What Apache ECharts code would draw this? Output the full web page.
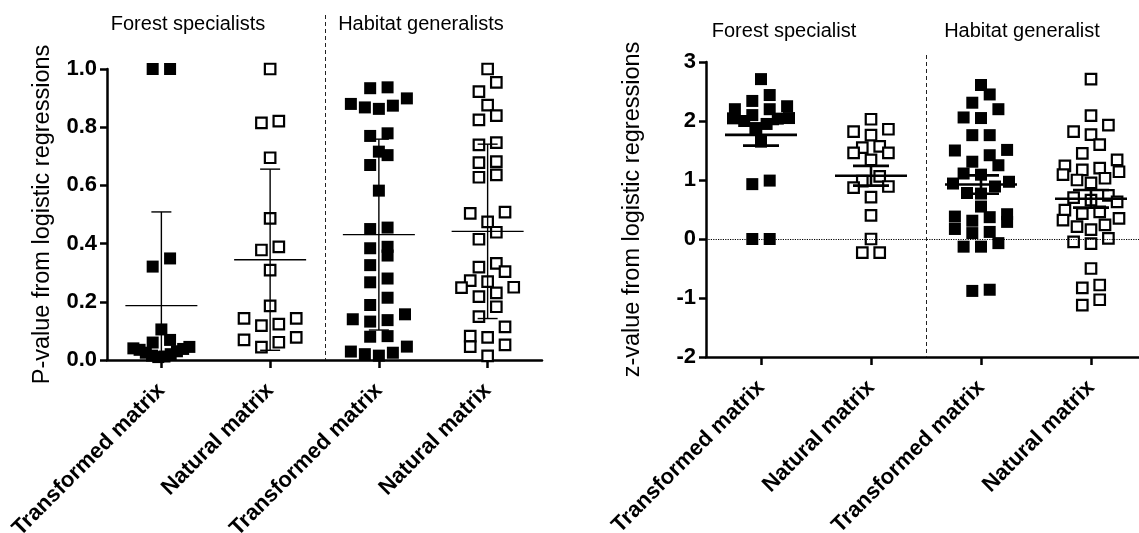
<!DOCTYPE html>
<html><head><meta charset="utf-8">
<script src="https://cdn.jsdelivr.net/npm/echarts@6/dist/echarts.min.js"></script>
<style>html,body{margin:0;padding:0;background:#fff}#c{width:1139px;height:533px}</style>
</head><body><div id="c"></div>
<script>
// ---- data ----
const categories = ['Transformed matrix', 'Natural matrix', 'Transformed matrix', 'Natural matrix'];
const groupTitlesP = ['Forest specialists', 'Habitat generalists'];
const groupTitlesZ = ['Forest specialist', 'Habitat generalist'];
const pAxisName = 'P-value from logistic regressions';
const zAxisName = 'z-value from logistic regressions';

const pForestTransformed = [1.0, 1.0, 0.349, 0.321, 0.105, 0.069, 0.06, 0.045, 0.04, 0.038, 0.035, 0.03, 0.025, 0.02, 0.015, 0.012, 0.01];
const pForestNatural = [1.0, 0.821, 0.815, 0.695, 0.487, 0.389, 0.378, 0.309, 0.186, 0.143, 0.143, 0.123, 0.118, 0.078, 0.069, 0.061, 0.044];
const pGeneralistTransformed = [0.937, 0.934, 0.899, 0.880, 0.874, 0.868, 0.863, 0.779, 0.770, 0.716, 0.704, 0.670, 0.582, 0.455, 0.450, 0.389, 0.384, 0.359, 0.326, 0.280, 0.267, 0.214, 0.189, 0.157, 0.140, 0.137, 0.132, 0.082, 0.080, 0.046, 0.029, 0.025, 0.020, 0.015];
const pGeneralistNatural = [1.0, 0.954, 0.922, 0.876, 0.840, 0.825, 0.747, 0.739, 0.682, 0.678, 0.636, 0.628, 0.508, 0.504, 0.475, 0.439, 0.415, 0.332, 0.319, 0.304, 0.273, 0.269, 0.250, 0.249, 0.231, 0.218, 0.183, 0.149, 0.114, 0.082, 0.078, 0.052, 0.046, 0.014];

const zForestTransformed = [2.71, 2.44, 2.34, 2.25, 2.20, 2.20, 2.10, 2.05, 2.045, 2.04, 2.00, 1.95, 1.88, 1.65, 0.99, 0.93, 0, 0];
const zForestNatural = [2.03, 1.86, 1.82, 1.76, 1.57, 1.55, 1.46, 1.46, 1.34, 1.06, 0.98, 0.89, 0.87, 0.71, 0.40, 0, -0.23, -0.23];
const zGeneralistTransformed = [2.61, 2.45, 2.31, 2.20, 2.06, 2.05, 1.76, 1.76, 1.51, 1.50, 1.42, 1.31, 1.25, 1.11, 1.09, 0.97, 0.94, 0.89, 0.78, 0.77, 0.55, 0.42, 0.38, 0.37, 0.31, 0.29, 0.17, 0.12, 0.10, -0.07, -0.13, -0.13, -0.86, -0.88];
const zGeneralistNatural = [2.71, 2.09, 1.93, 1.82, 1.77, 1.60, 1.45, 1.34, 1.24, 1.20, 1.17, 1.14, 1.09, 1.03, 1.00, 0.95, 0.74, 0.70, 0.66, 0.63, 0.49, 0.46, 0.43, 0.35, 0.32, 0.24, 0.21, 0.16, 0.01, -0.05, -0.08, -0.50, -0.78, -0.83, -1.03, -1.12];

// ---- layout / style ----
const FONT = '"Liberation Sans", Arial, Helvetica, sans-serif';
const G0 = {left: 107, top: 69, width: 435, height: 291};
const G1 = {left: 706, top: 62, width: 440, height: 295};
const P_MIN = 0, P_MAX = 1, Z_MIN = -2, Z_MAX = 3;
const SYM = 12;

// beeswarm-like row layout (pixel offsets computed from the values)
function swarm(values, pxPerUnit) {
  const idx = values.map((v, i) => i).sort((a, b) => values[a] - values[b]);
  const off = new Array(values.length).fill(0);
  let i = 0;
  while (i < idx.length) {
    const start = values[idx[i]];
    let j = i;
    while (j < idx.length && (values[idx[j]] - start) * pxPerUnit < SYM) j++;
    const row = idx.slice(i, j);
    const n = row.length;
    const step = n > 1 ? Math.min(17.4, 56 / (n - 1)) : 0;
    const slots = [];
    for (let k = 0; k < n; k++) slots.push((k - (n - 1) / 2) * step);
    slots.sort((a, b) => Math.abs(a) - Math.abs(b) || a - b);
    row.forEach((r, k) => { off[r] = slots[k]; });
    i = j;
  }
  return off;
}
function pointsData(groups, pxPerUnit) {
  const out = [];
  groups.forEach((vals, g) => {
    const off = swarm(vals, pxPerUnit);
    vals.forEach((v, k) => out.push([g, v, off[k]]));
  });
  return out;
}
function stats(vals) {
  const n = vals.length;
  const m = vals.reduce((a, b) => a + b, 0) / n;
  const sd = Math.sqrt(vals.reduce((a, b) => a + (b - m) * (b - m), 0) / (n - 1));
  return {m, sd, sem: sd / Math.sqrt(n)};
}
function errData(groups, kind, lo, hi) {
  return groups.map((vals, g) => {
    const s = stats(vals);
    const e = kind === 'sd' ? s.sd : s.sem;
    return [g, s.m, Math.max(lo, s.m - e), Math.min(hi, s.m + e)];
  });
}
function pointRender(filled) {
  return function (params, api) {
    const c = api.coord([api.value(0), api.value(1)]);
    const x = c[0] + api.value(2);
    if (filled) {
      return {type: 'rect', shape: {x: x - SYM / 2, y: c[1] - SYM / 2, width: SYM, height: SYM}, style: {fill: '#000'}};
    }
    const s = SYM - 1.5;
    return {type: 'rect', shape: {x: x - s / 2, y: c[1] - s / 2, width: s, height: s}, style: {fill: '#fff', stroke: '#000', lineWidth: 2.2}};
  };
}
function errRender(meanW, capW, lw, lo) {
  return function (params, api) {
    const cat = api.value(0);
    const cm = api.coord([cat, api.value(1)]);
    const cl = api.coord([cat, api.value(2)]);
    const ch = api.coord([cat, api.value(3)]);
    const x = cm[0];
    const st = {stroke: '#000', lineWidth: lw};
    const ch2 = [
      {type: 'line', shape: {x1: x - meanW / 2, y1: cm[1], x2: x + meanW / 2, y2: cm[1]}, style: st},
      {type: 'line', shape: {x1: x, y1: cl[1], x2: x, y2: ch[1]}, style: st},
      {type: 'line', shape: {x1: x - capW / 2, y1: ch[1], x2: x + capW / 2, y2: ch[1]}, style: st}
    ];
    if (api.value(2) > lo) ch2.push({type: 'line', shape: {x1: x - capW / 2, y1: cl[1], x2: x + capW / 2, y2: cl[1]}, style: st});
    return {type: 'group', children: ch2};
  };
}
function dividerRender(ext) {
  return function (params, api) {
    const cs = params.coordSys;
    const c = api.coord([api.value(0), 0]);
    const bw = api.size([1, 0])[0];
    const x = Math.round(c[0] + bw / 2) + 0.5;
    return {type: 'line', shape: {x1: x, y1: cs.y - ext, x2: x, y2: cs.y + cs.height},
      style: {stroke: '#222', lineWidth: 1, lineDash: [4, 3]}};
  };
}

const pGroups = [pForestTransformed, pForestNatural, pGeneralistTransformed, pGeneralistNatural];
const zGroups = [zForestTransformed, zForestNatural, zGeneralistTransformed, zGeneralistNatural];
const pPx = G0.height / (P_MAX - P_MIN);
const zPx = G1.height / (Z_MAX - Z_MIN);
const pPts = pointsData(pGroups, pPx);
const zPts = pointsData(zGroups, zPx);

function xAxisCfg(gi) {
  return {
    type: 'category', gridIndex: gi, data: ['0', '1', '2', '3'],
    axisLine: {show: true, onZero: false, lineStyle: {color: '#000', width: 2.5}},
    axisTick: {show: true, alignWithLabel: true, length: 8, lineStyle: {color: '#000', width: 2.5}},
    axisLabel: {rotate: 45, margin: 27, color: '#000', fontWeight: 'bold', fontSize: 22, fontFamily: FONT,
      formatter: (v, i) => categories[i], interval: 0},
    splitLine: {show: false}
  };
}
function yAxisCfg(gi, min, max, interval, name, gap, fmt) {
  return {
    type: 'value', gridIndex: gi, min, max, interval,
    name, nameLocation: 'middle', nameGap: gap, nameRotate: 90,
    nameTextStyle: {color: '#000', fontSize: 23.5, fontFamily: FONT},
    axisLine: {show: true, onZero: false, lineStyle: {color: '#000', width: 2.5}},
    axisTick: {show: true, length: 7, lineStyle: {color: '#000', width: 2.5}},
    axisLabel: {color: '#000', fontWeight: 'bold', fontSize: 22, fontFamily: FONT, margin: 10, formatter: fmt},
    splitLine: {show: false}
  };
}

const option = {
  animation: false,
  backgroundColor: '#fff',
  grid: [
    Object.assign({containLabel: false, outerBoundsMode: 'none'}, G0),
    Object.assign({containLabel: false, outerBoundsMode: 'none'}, G1)
  ],
  xAxis: [xAxisCfg(0), xAxisCfg(1)],
  yAxis: [
    yAxisCfg(0, P_MIN, P_MAX, 0.2, pAxisName, 52, v => v.toFixed(1)),
    yAxisCfg(1, Z_MIN, Z_MAX, 1, zAxisName, 61, v => String(v))
  ],
  graphic: [
    {type: 'text', x: 188, y: 24, style: {text: groupTitlesP[0], fill: '#000', font: '20px ' + FONT, textAlign: 'center', textVerticalAlign: 'middle'}},
    {type: 'text', x: 421, y: 24, style: {text: groupTitlesP[1], fill: '#000', font: '20px ' + FONT, textAlign: 'center', textVerticalAlign: 'middle'}},
    {type: 'text', x: 784, y: 31, style: {text: groupTitlesZ[0], fill: '#000', font: '20px ' + FONT, textAlign: 'center', textVerticalAlign: 'middle'}},
    {type: 'text', x: 1022, y: 31, style: {text: groupTitlesZ[1], fill: '#000', font: '20px ' + FONT, textAlign: 'center', textVerticalAlign: 'middle'}}
  ],
  series: [
    {type: 'custom', xAxisIndex: 0, yAxisIndex: 0, clip: false, renderItem: dividerRender(54), data: [[1]], z: 1, silent: true},
    {type: 'custom', xAxisIndex: 1, yAxisIndex: 1, clip: false, renderItem: dividerRender(7), data: [[1]], z: 1, silent: true,
      markLine: {silent: true, symbol: 'none', label: {show: false}, lineStyle: {color: '#000', type: 'dotted', width: 1.2},
        data: [{yAxis: 0}]}},
    {type: 'custom', xAxisIndex: 0, yAxisIndex: 0, clip: false, renderItem: pointRender(true),
      encode: {x: 0, y: 1}, data: pPts.filter(d => d[0] % 2 === 0), z: 3},
    {type: 'custom', xAxisIndex: 0, yAxisIndex: 0, clip: false, renderItem: pointRender(false),
      encode: {x: 0, y: 1}, data: pPts.filter(d => d[0] % 2 === 1), z: 3},
    {type: 'custom', xAxisIndex: 1, yAxisIndex: 1, clip: false, renderItem: pointRender(true),
      encode: {x: 0, y: 1}, data: zPts.filter(d => d[0] % 2 === 0), z: 3},
    {type: 'custom', xAxisIndex: 1, yAxisIndex: 1, clip: false, renderItem: pointRender(false),
      encode: {x: 0, y: 1}, data: zPts.filter(d => d[0] % 2 === 1), z: 3},
    {type: 'custom', xAxisIndex: 0, yAxisIndex: 0, clip: false, renderItem: errRender(72, 20, 1.4, P_MIN),
      encode: {x: 0, y: 1}, data: errData(pGroups, 'sd', P_MIN, P_MAX), z: 5},
    {type: 'custom', xAxisIndex: 1, yAxisIndex: 1, clip: false, renderItem: errRender(72, 36, 2.6, Z_MIN),
      encode: {x: 0, y: 1}, data: errData(zGroups, 'sem', Z_MIN, Z_MAX), z: 5}
  ]
};
const chart = echarts.init(document.getElementById('c'), null, {renderer: 'canvas'});
chart.setOption(option);
</script>
</body></html>
